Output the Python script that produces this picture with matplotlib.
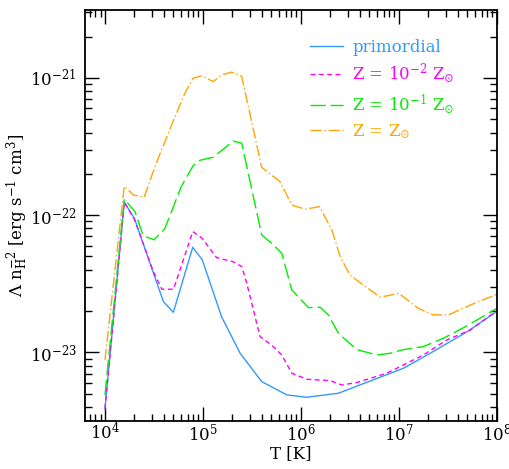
import numpy as np
import matplotlib
matplotlib.use("Agg")
from matplotlib import pyplot as plt
from matplotlib.ticker import LogLocator, FuncFormatter, NullFormatter

plt.rcParams['font.family'] = ['DejaVu Serif']
plt.rcParams['mathtext.fontset'] = 'dejavuserif'

# log10 T and log10 Lambda/n_H^2
logT_prim = [4.0, 4.197, 4.30, 4.596, 4.698, 4.896, 4.994, 5.19, 5.38, 5.60,
             5.856, 6.06, 6.383, 6.74, 7.047, 7.32, 7.695, 8.0]
logL_prim = [-23.41, -21.906, -22.023, -22.63, -22.708, -22.234, -22.327, -22.74,
             -23.007, -23.213, -23.31, -23.327, -23.298, -23.20, -23.116, -23.007,
             -22.85, -22.703]

logT_m2 = [4.0, 4.197, 4.30, 4.493, 4.58, 4.70, 4.896, 4.994, 5.14, 5.31, 5.396,
           5.447, 5.583, 5.70, 5.805, 5.907, 6.06, 6.298, 6.418, 6.57, 6.877, 7.08,
           7.25, 7.49, 7.73, 8.0]
logL_m2 = [-23.41, -21.906, -22.03, -22.41, -22.54, -22.54, -22.12, -22.17, -22.31,
           -22.34, -22.375, -22.496, -22.886, -22.946, -23.019, -23.152, -23.196,
           -23.206, -23.238, -23.22, -23.152, -23.08, -23.019, -22.91, -22.837, -22.696]

logT_m1 = [4.0, 4.197, 4.306, 4.39, 4.50, 4.61, 4.78, 4.90, 4.97, 5.106, 5.31,
           5.396, 5.60, 5.70, 5.805, 5.907, 6.077, 6.196, 6.28, 6.383, 6.57, 6.775,
           6.91, 7.047, 7.25, 7.456, 7.695, 8.0]
logL_m1 = [-23.31, -21.884, -21.974, -22.15, -22.18, -22.10, -21.79, -21.64, -21.60,
           -21.578, -21.46, -21.476, -22.144, -22.205, -22.278, -22.545, -22.674,
           -22.671, -22.727, -22.861, -22.98, -23.019, -23.007, -22.98, -22.958,
           -22.897, -22.807, -22.68]

logT_sol = [4.0, 4.197, 4.29, 4.40, 4.51, 4.715, 4.817, 4.90, 4.988, 5.106, 5.19,
            5.294, 5.396, 5.60, 5.787, 5.907, 6.043, 6.19, 6.316, 6.40, 6.50, 6.656,
            6.81, 7.0, 7.20, 7.353, 7.507, 7.73, 8.0]
logL_sol = [-23.055, -21.79, -21.853, -21.87, -21.646, -21.282, -21.11, -21.002,
            -20.985, -21.027, -20.978, -20.958, -20.99, -21.652, -21.756, -21.926,
            -21.957, -21.938, -22.108, -22.30, -22.436, -22.52, -22.598, -22.57,
            -22.68, -22.727, -22.727, -22.655, -22.577]

labels = ['primordial', r'Z = 10$^{-2}$ Z$_{\odot}$', r'Z = 10$^{-1}$ Z$_{\odot}$',
          r'Z = Z$_{\odot}$']
colors = ['#3399ff', '#ff00ff', '#00ee00', '#ffa500']

fig = plt.figure(figsize=(5.09, 4.69), dpi=100)
ax = fig.add_axes([0.167, 0.103, 0.809, 0.876])

ax.plot(10**np.array(logT_prim), 10**np.array(logL_prim), color=colors[0], lw=1.0,
        label=labels[0])
ax.plot(10**np.array(logT_m2), 10**np.array(logL_m2), color=colors[1], lw=1.0,
        dashes=(3.5, 2.5), label=labels[1])
ax.plot(10**np.array(logT_m1), 10**np.array(logL_m1), color=colors[2], lw=1.0,
        dashes=(11, 3.5), label=labels[2])
ax.plot(10**np.array(logT_sol), 10**np.array(logL_sol), color=colors[3], lw=1.0,
        dashes=(8, 2, 1, 2), label=labels[3])

ax.set_xscale('log')
ax.set_yscale('log')
ax.set_xlim(10**3.796, 1e8)
ax.set_ylim(10**-23.498, 10**-20.504)

def dec(v, pos):
    e = int(round(np.log10(v)))
    return r'$\mathregular{10^{%d}}$' % e

ax.xaxis.set_major_locator(LogLocator(base=10, numticks=20))
ax.yaxis.set_major_locator(LogLocator(base=10, numticks=20))
ax.xaxis.set_minor_locator(LogLocator(base=10, subs=np.arange(2, 10), numticks=20))
ax.yaxis.set_minor_locator(LogLocator(base=10, subs=np.arange(2, 10), numticks=20))
ax.xaxis.set_major_formatter(FuncFormatter(dec))
ax.yaxis.set_major_formatter(FuncFormatter(dec))
ax.xaxis.set_minor_formatter(NullFormatter())
ax.yaxis.set_minor_formatter(NullFormatter())
ax.tick_params(which='both', direction='in', top=True, right=True, labelsize=12,
               width=1)
ax.tick_params(axis='x', pad=1)
ax.tick_params(axis='y', pad=6)
ax.tick_params(which='major', length=10)
ax.tick_params(which='minor', length=5)
for s in ax.spines.values():
    s.set_linewidth(1.3)

ax.set_xlabel('T [K]', fontsize=12, labelpad=1)
ax.set_ylabel(r'$\Lambda$ n$_\mathregular{H}^{-2}$ [erg s$^{-1}$ cm$^3$]', fontsize=12)
ax.yaxis.set_label_coords(-0.133, 0.5)

leg = ax.legend(loc='upper left', bbox_to_anchor=(0.546, 0.93), frameon=False,
                fontsize=12, labelcolor='linecolor', handlelength=2.0,
                handletextpad=0.55, labelspacing=0.36, borderpad=0, borderaxespad=0)

fig.savefig('out.png', dpi=100)
